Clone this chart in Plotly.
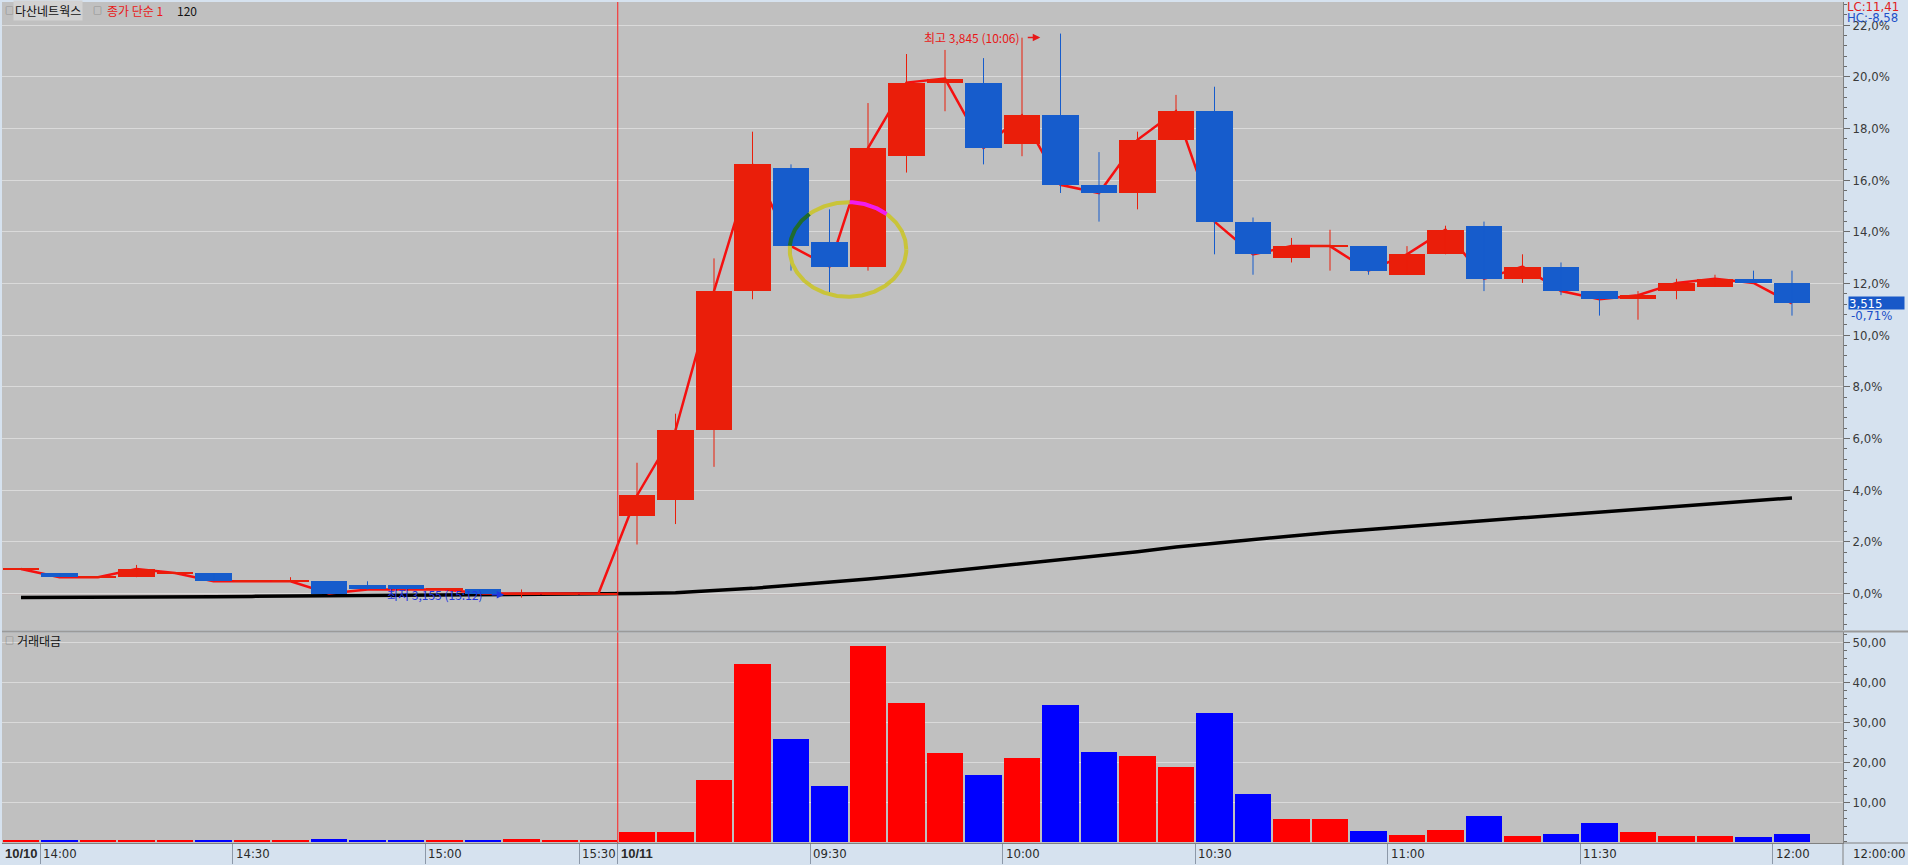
import math
import plotly.graph_objects as go

# ---------------- data ----------------
BASE_PRICE = 3160  # price at 0.0% on the right axis

BAR_TIMES = ["13:54", "14:00", "14:06", "14:12", "14:18", "14:24", "14:30", "14:36",
             "14:42", "14:48", "14:54", "15:00", "15:06", "15:12", "15:18", "15:30",
             "09:00", "09:06", "09:12", "09:18", "09:24", "09:30", "09:36", "09:42",
             "09:48", "09:54", "10:00", "10:06", "10:12", "10:18", "10:24", "10:30",
             "10:36", "10:42", "10:48", "10:54", "11:00", "11:06", "11:12", "11:18",
             "11:24", "11:30", "11:36", "11:42", "11:48", "11:54", "12:00"]

OPEN = [3190, 3185, 3180, 3180, 3185, 3185, 3175, 3175, 3175, 3170, 3170, 3165, 3165, 3160, 3160, 3160,
        3255, 3275, 3360, 3530, 3680, 3590, 3560, 3695, 3785, 3785,
        3710, 3745, 3660, 3650, 3715, 3750, 3615, 3570, 3585, 3585,
        3550, 3575, 3610, 3545, 3560, 3530, 3520, 3530, 3535, 3545, 3540]
HIGH = [3190, 3185, 3180, 3195, 3185, 3185, 3175, 3180, 3175, 3175, 3170, 3165, 3165, 3165, 3160, 3160,
        3320, 3380, 3570, 3725, 3685, 3630, 3760, 3820, 3825, 3815,
        3840, 3845, 3700, 3725, 3770, 3780, 3620, 3595, 3605, 3585,
        3585, 3610, 3615, 3575, 3565, 3530, 3530, 3545, 3550, 3555, 3555]
LOW = [3190, 3180, 3180, 3180, 3185, 3175, 3175, 3175, 3160, 3165, 3165, 3165, 3160, 3155, 3160, 3160,
       3220, 3245, 3315, 3520, 3555, 3525, 3555, 3675, 3750, 3685,
       3695, 3650, 3615, 3630, 3715, 3575, 3550, 3565, 3555, 3550,
       3550, 3575, 3530, 3540, 3525, 3500, 3495, 3520, 3535, 3540, 3500]
CLOSE = [3190, 3180, 3180, 3190, 3185, 3175, 3175, 3175, 3160, 3165, 3165, 3165, 3160, 3160, 3160, 3160,
         3280, 3360, 3530, 3685, 3585, 3560, 3705, 3785, 3790, 3705,
         3745, 3660, 3650, 3715, 3750, 3615, 3575, 3585, 3585, 3555,
         3575, 3605, 3545, 3560, 3530, 3520, 3525, 3540, 3545, 3540, 3515]

# 120-bar simple moving average of close, in %
MA120_PCT = [-0.15, -0.15, -0.14, -0.14, -0.13, -0.12, -0.11, -0.10, -0.09, -0.08, -0.07, -0.06,
             -0.05, -0.04, -0.04, -0.03,
             0.00, 0.03, 0.10, 0.20, 0.32, 0.43, 0.56, 0.70, 0.85, 1.00,
             1.16, 1.32, 1.48, 1.62, 1.80, 1.95, 2.09, 2.23, 2.36, 2.48,
             2.60, 2.71, 2.82, 2.93, 3.04, 3.15, 3.26, 3.37, 3.48, 3.59, 3.70]

# 거래대금 (trading value)
VOLUME = [0.3, 0.3, 0.3, 0.3, 0.3, 0.3, 0.3, 0.3, 0.7, 0.3, 0.3, 0.3, 0.3, 0.6, 0.3, 0.3,
          2.3, 2.3, 15.4, 44.6, 25.7, 13.9, 48.9, 34.6, 22.1, 16.6,
          20.9, 34.2, 22.4, 21.5, 18.7, 32.1, 12.0, 5.7, 5.7, 2.6,
          1.7, 2.9, 6.3, 1.4, 2.0, 4.7, 2.3, 1.4, 1.4, 1.1, 2.0]

TICK_BARS = [0, 1, 6, 11, 15, 16, 21, 26, 31, 36, 41, 46]
TICK_LABELS = ["10/10", "14:00", "14:30", "15:00", "15:30", "10/11",
               "09:30", "10:00", "10:30", "11:00", "11:30", "12:00"]
DATE_LABELS = ["10/10", "10/11"]
DAY_START_BAR = 16
Y_TICKS_PCT = [0, 2, 4, 6, 8, 10, 12, 14, 16, 18, 20, 22]
Y_TICK_TEXT = ["0,0%", "2,0%", "4,0%", "6,0%", "8,0%", "10,0%", "12,0%", "14,0%",
               "16,0%", "18,0%", "20,0%", "22,0%"]
VOL_TICKS = [10, 20, 30, 40, 50]
VOL_TICK_TEXT = ["10,00", "20,00", "30,00", "40,00", "50,00"]

# user drawn ellipse (in bar index / % units)
ELLIPSE_CX, ELLIPSE_CY, ELLIPSE_RX, ELLIPSE_RY = 21.48, 13.32, 1.515, 1.83

# ---------------- styles ----------------
UP_C = "#ea1e0a"
DN_C = "#165ccc"
VOL_UP = "#ff0000"
VOL_DN = "#0000ff"
BODY_W = 0.95
NUM_FONT = "Liberation Sans Narrow, DejaVu Sans Condensed, Arial Narrow, sans-serif"
KR_FONT = "Noto Sans CJK KR, sans-serif"
XR = [-0.494, 47.325]
TOP_RANGE = [-1.43, 22.9]


def pct(p):
    return (p / BASE_PRICE - 1.0) * 100.0


n = len(CLOSE)
idx = list(range(n))
up = [CLOSE[i] >= OPEN[i] for i in idx]
close_pct = [pct(c) for c in CLOSE]

body_base, body_h = [], []
for i in idx:
    lo, hi = sorted((pct(OPEN[i]), pct(CLOSE[i])))
    h = hi - lo
    if h < 0.08:
        lo -= (0.08 - h) / 2
        h = 0.08
    body_base.append(lo)
    body_h.append(h)

fig = go.Figure()

# lines (behind candles)
fig.add_trace(go.Scatter(x=idx, y=MA120_PCT, mode="lines", line=dict(color="#000000", width=3.5),
                         xaxis="x", yaxis="y", hoverinfo="skip"))
fig.add_trace(go.Scatter(x=idx, y=close_pct, mode="lines", line=dict(color="#f51010", width=2.5),
                         xaxis="x", yaxis="y", hoverinfo="skip"))

# candle bodies
fig.add_trace(go.Bar(x=idx, y=body_h, base=body_base, width=BODY_W,
                     marker=dict(color=[UP_C if u else DN_C for u in up], line=dict(width=0)),
                     xaxis="x", yaxis="y3", hoverinfo="skip"))
# wicks
for flag, col in ((True, UP_C), (False, DN_C)):
    wx, wy = [], []
    for i in idx:
        if up[i] == flag:
            wx += [i, i, None]
            wy += [pct(LOW[i]), pct(HIGH[i]), None]
    fig.add_trace(go.Scatter(x=wx, y=wy, mode="lines", line=dict(color=col, width=1),
                             xaxis="x", yaxis="y3", hoverinfo="skip"))

# ellipse with colour changes where it crosses candle bodies
NP = 400
pts = []
for k in range(NP + 1):
    t = 2 * math.pi * k / NP
    pts.append((ELLIPSE_CX + ELLIPSE_RX * math.cos(t), ELLIPSE_CY + ELLIPSE_RY * math.sin(t)))


def classify(x, y):
    for i in idx:
        if abs(x - i) <= BODY_W / 2:
            lo = body_base[i]
            hi = lo + body_h[i]
            if lo <= y <= hi:
                return "up" if up[i] else "dn"
    return "none"


seg_cls = []
for k in range(NP):
    mx = (pts[k][0] + pts[k + 1][0]) / 2
    my = (pts[k][1] + pts[k + 1][1]) / 2
    seg_cls.append(classify(mx, my))

for cls, col in (("none", "#c9c43a"), ("dn", "#1f6b2f"), ("up", "#f01cf0")):
    ex, ey = [], []
    prev = False
    for k in range(NP):
        if seg_cls[k] == cls:
            if not prev:
                ex.append(pts[k][0]); ey.append(pts[k][1])
            ex.append(pts[k + 1][0]); ey.append(pts[k + 1][1])
            prev = True
        else:
            if prev:
                ex.append(None); ey.append(None)
            prev = False
    fig.add_trace(go.Scatter(x=ex, y=ey, mode="lines", line=dict(color=col, width=4),
                             xaxis="x", yaxis="y3", hoverinfo="skip"))

# volume bars
fig.add_trace(go.Bar(x=idx, y=VOLUME, width=BODY_W,
                     marker=dict(color=[VOL_UP if u else VOL_DN for u in up], line=dict(width=0)),
                     xaxis="x2", yaxis="y2", hoverinfo="skip"))

# ---------------- layout ----------------
tickfont = dict(family=NUM_FONT, size=13, color="#3a3a3a")
fig.update_layout(
    width=1908, height=865,
    margin=dict(l=2, r=65, t=2, b=20),
    paper_bgcolor="#d6e2ef", plot_bgcolor="#c0c0c0",
    showlegend=False, barmode="overlay", bargap=0,
    xaxis=dict(domain=[0, 1], range=XR, anchor="y", showticklabels=False, showgrid=False,
               zeroline=False, ticks=""),
    xaxis2=dict(domain=[0, 1], range=XR, anchor="y2", showticklabels=False, showgrid=False,
                zeroline=False, tickmode="array", tickvals=[b - 0.5 for b in TICK_BARS],
                ticks="outside", ticklen=20, tickcolor="#8c98a8", showline=True, linecolor="#808080"),
    yaxis=dict(domain=[0.2527, 1], range=TOP_RANGE, anchor="x", side="right",
               tickmode="array", tickvals=Y_TICKS_PCT, ticktext=Y_TICK_TEXT,
               ticks="outside", ticklen=6, tickcolor="#6a6a6a", tickfont=tickfont,
               showline=True, linecolor="#808080", gridcolor="#dadada", gridwidth=1, zeroline=False,
               minor=dict(tick0=0, dtick=0.4, ticks="outside", ticklen=3, tickcolor="#6a6a6a", showgrid=False)),
    yaxis3=dict(overlaying="y", range=TOP_RANGE, anchor="x", visible=False, showgrid=False, zeroline=False),
    yaxis2=dict(domain=[0, 0.2503], range=[-0.25, 52.5], anchor="x2", side="right",
                tickmode="array", tickvals=VOL_TICKS, ticktext=VOL_TICK_TEXT,
                ticks="outside", ticklen=6, tickcolor="#6a6a6a", tickfont=tickfont,
                showline=True, linecolor="#808080", gridcolor="#dadada", gridwidth=1, zeroline=False,
                minor=dict(tick0=0, dtick=2, ticks="outside", ticklen=3, tickcolor="#6a6a6a", showgrid=False)),
)

shapes = [
    dict(type="line", xref="paper", yref="y", x0=0, x1=1, y0=0, y1=0,
         line=dict(color="#ff0000", width=1), layer="between"),
    dict(type="line", xref="x", yref="paper", x0=DAY_START_BAR - 0.5, x1=DAY_START_BAR - 0.5,
         y0=0, y1=1, line=dict(color="#ff2020", width=1), layer="above"),
    dict(type="line", xref="paper", yref="paper", x0=0, x1=1.04, y0=0.2515, y1=0.2515,
         line=dict(color="#9a9a9a", width=2), layer="above"),
    dict(type="line", xref="paper", yref="paper", x0=1, x1=1, y0=-0.03, y1=0,
         line=dict(color="#808080", width=1), layer="above"),
    dict(type="line", xref="paper", yref="paper", x0=1, x1=1.04, y0=0, y1=0,
         line=dict(color="#808080", width=1), layer="above"),
]
fig.update_layout(shapes=shapes)

ann = []
# x labels (left-aligned at the left edge of their bar)
for b, lab in zip(TICK_BARS, TICK_LABELS):
    bold = lab in DATE_LABELS
    ann.append(dict(x=max(b - 0.5, XR[0] + 0.001), xref="x2", xanchor="left", xshift=1, y=0, yref="paper",
                    yanchor="middle", yshift=-10, showarrow=False,
                    text=f"<b>{lab}</b>" if bold else lab,
                    font=dict(family="Liberation Sans, Arial, sans-serif" if bold else NUM_FONT,
                              size=13, color="#2a2a2a")))
ann.append(dict(x=1, xref="paper", xanchor="left", xshift=8, y=0, yref="paper", yanchor="middle",
                yshift=-10, showarrow=False, text=BAR_TIMES[-1] + ":00",
                font=dict(family=NUM_FONT, size=13, color="#2a2a2a")))


# top-left legend
def small_box(xs, y, ysh):
    return dict(x=0, xref="paper", xanchor="left", xshift=xs, y=y, yref="paper", yanchor="middle",
                yshift=ysh, showarrow=False, text="□", font=dict(family=KR_FONT, size=9, color="#6a6a6a"))


ann.append(small_box(1, 1, -8))
ann.append(dict(x=0, xref="paper", xanchor="left", xshift=11, y=1, yref="paper", yanchor="middle",
                yshift=-8, showarrow=False, text="다산네트웍스", bgcolor="#d2d2d2",
                font=dict(family=KR_FONT, size=12, color="#111111")))
ann.append(small_box(89, 1, -8))
ann.append(dict(x=0, xref="paper", xanchor="left", xshift=103, y=1, yref="paper", yanchor="middle",
                yshift=-8, showarrow=False, text="종가 단순 1",
                font=dict(family=KR_FONT, size=12, color="#e81818")))
ann.append(dict(x=0, xref="paper", xanchor="left", xshift=173, y=1, yref="paper", yanchor="middle",
                yshift=-8, showarrow=False, text="120",
                font=dict(family=KR_FONT, size=12, color="#111111")))
ann.append(small_box(1, 0.2503, -8))
ann.append(dict(x=0, xref="paper", xanchor="left", xshift=13, y=0.2503, yref="paper", yanchor="middle",
                yshift=-8, showarrow=False, text="거래대금",
                font=dict(family=KR_FONT, size=12, color="#111111")))

# high / low markers
imax = max(idx, key=lambda i: HIGH[i])
imin = min(idx, key=lambda i: LOW[i])
ann.append(dict(x=imax - 0.5, xref="x", xanchor="right", xshift=-19, y=pct(HIGH[imax]), yref="y",
                yanchor="middle", yshift=-4, showarrow=False,
                text=f"최고 {HIGH[imax]:,} ({BAR_TIMES[imax]})",
                font=dict(family=KR_FONT, size=12, color="#e81818")))
ann.append(dict(x=imax - 0.5, xref="x", y=pct(HIGH[imax]), yref="y", yshift=-4, xshift=-1,
                ax=-14, ay=0, text="", showarrow=True, arrowhead=2, arrowsize=1, arrowwidth=1.5,
                arrowcolor="#e81818"))
ann.append(dict(x=imin - 0.5, xref="x", xanchor="right", xshift=-17, y=pct(LOW[imin]), yref="y",
                yanchor="middle", yshift=3, showarrow=False,
                text=f"최저 {LOW[imin]:,} ({BAR_TIMES[imin]})",
                font=dict(family=KR_FONT, size=12, color="#2036e0")))
ann.append(dict(x=imin - 0.5, xref="x", y=pct(LOW[imin]), yref="y", yshift=3, xshift=2,
                ax=-14, ay=0, text="", showarrow=True, arrowhead=2, arrowsize=1, arrowwidth=1.5,
                arrowcolor="#2036e0"))

# right side info
last = CLOSE[-1]
lc = (last / min(LOW) - 1) * 100
hc = (last / max(HIGH) - 1) * 100
chg = (last / CLOSE[-2] - 1) * 100
fmt = lambda v: f"{v:.2f}".replace(".", ",")
ann.append(dict(x=1, xref="paper", xanchor="left", xshift=2, y=1, yref="paper", yanchor="middle",
                yshift=-4, showarrow=False, text=f"LC:{fmt(lc)}",
                font=dict(family=NUM_FONT, size=13, color="#e02020")))
ann.append(dict(x=1, xref="paper", xanchor="left", xshift=2, y=1, yref="paper", yanchor="middle",
                yshift=-15, showarrow=False, text=f"HC:{fmt(hc)}",
                font=dict(family=NUM_FONT, size=13, color="#2050c8")))
ann.append(dict(x=1, xref="paper", xanchor="left", xshift=5, y=pct(last), yref="y", yanchor="middle",
                showarrow=False, text=f"{last:,}", bgcolor="#1858c8", width=55, height=12, align="left",
                borderpad=0, font=dict(family=NUM_FONT, size=13, color="#ffffff")))
ann.append(dict(x=1, xref="paper", xanchor="left", xshift=6, y=pct(last), yref="y", yanchor="middle",
                yshift=-12, showarrow=False, text=fmt(chg) + "%",
                font=dict(family=NUM_FONT, size=13, color="#2050c8")))
fig.update_layout(annotations=ann)

fig.write_html("out.html", config={"displayModeBar": False},
               post_script="document.body.style.margin='0';document.body.style.overflow='hidden';")
